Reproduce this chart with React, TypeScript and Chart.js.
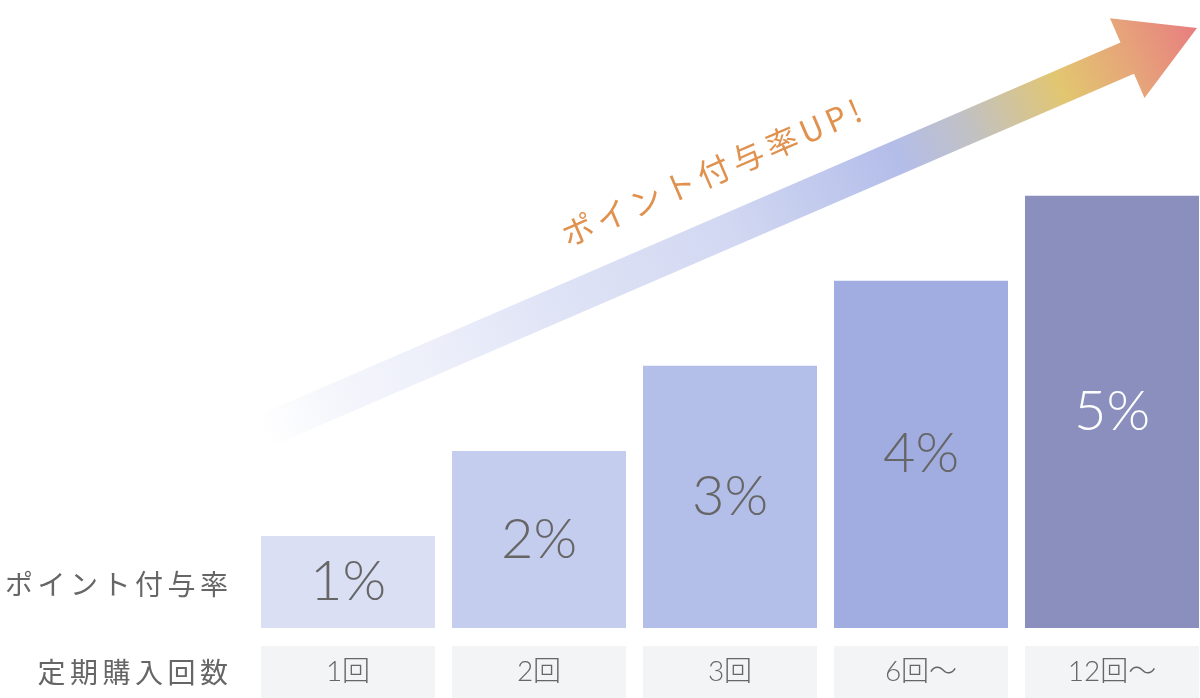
import React, { useEffect, useRef } from 'react';
import { Chart, registerables } from 'chart.js';

Chart.register(...registerables);

// data
const purchaseCounts = ['1回', '2回', '3回', '6回〜', '12回〜'];
const pointRates = [1, 2, 3, 4, 5];
const barColors = ['#dadff4', '#c5cdef', '#b3bee9', '#a1ade0', '#8a8fbd'];
const valueLabelColors = ['#666666', '#666666', '#666666', '#666666', '#ffffff'];
const rowLabels = ['ポイント付与率', '定期購入回数'];
const arrowCaption = 'ポイント付与率UP!';

const GREY = '#666666';
const CELL_BG = '#f3f4f5';
const Y_MIN = -0.082;

// grey cells behind the x tick labels + the big gradient arrow
const backgroundPlugin = {
    id: 'backgroundDecor',
    beforeDraw(chart: any) {
        const { ctx, chartArea } = chart;
        const meta = chart.getDatasetMeta(0);
        ctx.save();
        ctx.fillStyle = CELL_BG;
        meta.data.forEach((bar: any) => {
            const { x, width } = bar.getProps(['x', 'width'], true);
            ctx.fillRect(x - width / 2, chartArea.bottom + 18, width, 60);
        });

        // arrow, from lower left to upper right
        const sx = chartArea.left + 9.5, sy = 432;
        const tx = 1197, ty = 28;
        const len = Math.hypot(tx - sx, ty - sy);
        const ang = Math.atan2(ty - sy, tx - sx);
        const headLen = 76, headHalf = 43.5, shaftHalf = 17;
        ctx.translate(sx, sy);
        ctx.rotate(ang);
        const g = ctx.createLinearGradient(0, 0, len, 0);
        g.addColorStop(0, 'rgba(240,242,250,0)');
        g.addColorStop(0.08, 'rgba(238,240,250,0.6)');
        g.addColorStop(0.3, '#e0e4f6');
        g.addColorStop(0.5, '#d2d8f2');
        g.addColorStop(0.68, '#b3bde9');
        g.addColorStop(0.755, '#c1c1c5');
        g.addColorStop(0.855, '#e2c670');
        g.addColorStop(0.93, '#e6a37a');
        g.addColorStop(1, '#e87e80');
        ctx.fillStyle = g;
        ctx.beginPath();
        ctx.moveTo(0, -shaftHalf);
        ctx.lineTo(len - headLen, -shaftHalf);
        ctx.lineTo(len - headLen, -headHalf);
        ctx.lineTo(len, 0);
        ctx.lineTo(len - headLen, headHalf);
        ctx.lineTo(len - headLen, shaftHalf);
        ctx.lineTo(0, shaftHalf);
        ctx.closePath();
        ctx.fill();

        ctx.fillStyle = '#e0914e';
        ctx.font = '400 32px "Noto Sans CJK JP", "Noto Sans", sans-serif';
        ctx.textAlign = 'left';
        ctx.textBaseline = 'alphabetic';
        (ctx as any).letterSpacing = '5px';
        ctx.fillText(arrowCaption, 354, -48);
        ctx.restore();
    }
};

// % values inside the bars and the row captions on the left
const labelPlugin = {
    id: 'barLabels',
    afterDatasetsDraw(chart: any) {
        const { ctx, chartArea } = chart;
        const meta = chart.getDatasetMeta(0);
        ctx.save();
        ctx.textAlign = 'center';
        ctx.textBaseline = 'middle';
        ctx.font = '300 56px Lato, "Noto Sans", sans-serif';
        meta.data.forEach((bar: any, i: number) => {
            const { x, y, base } = bar.getProps(['x', 'y', 'base'], true);
            ctx.fillStyle = valueLabelColors[i];
            ctx.fillText(pointRates[i] + '%', x, (y + base) / 2);
        });

        const first = meta.data[0].getProps(['y', 'base'], true);
        ctx.fillStyle = GREY;
        ctx.textAlign = 'right';
        ctx.font = '400 28px "Noto Sans CJK JP", sans-serif';
        (ctx as any).letterSpacing = '4.5px';
        const rx = chartArea.left - 24.5 + 4.5;
        ctx.fillText(rowLabels[0], rx, (first.y + first.base) / 2 + 2);
        ctx.fillText(rowLabels[1], rx, chartArea.bottom + 44);
        ctx.restore();
    }
};

const PointRateChart: React.FC = () => {
    const chartRef = useRef<HTMLCanvasElement>(null);
    const chartInstanceRef = useRef<Chart | null>(null);

    useEffect(() => {
        if (!chartRef.current) return;
        if (chartInstanceRef.current) {
            chartInstanceRef.current.destroy();
        }
        const ctx = chartRef.current.getContext('2d');
        if (!ctx) return;
        chartInstanceRef.current = new Chart(ctx, {
            type: 'bar',
            data: {
                labels: purchaseCounts,
                datasets: [{
                    label: 'ポイント付与率',
                    data: pointRates,
                    backgroundColor: barColors,
                    borderWidth: 0,
                    base: Y_MIN,
                    categoryPercentage: 1,
                    barPercentage: 174 / 191
                }]
            },
            options: {
                responsive: true,
                maintainAspectRatio: false,
                animation: false,
                layout: { padding: { left: 252.5, right: 0.5, top: 0, bottom: 0 } },
                plugins: {
                    legend: { display: false },
                    tooltip: { enabled: false }
                },
                scales: {
                    y: {
                        display: false,
                        min: Y_MIN,
                        max: 7.3
                    },
                    x: {
                        grid: { display: false, drawTicks: false },
                        border: { display: false },
                        ticks: {
                            color: GREY,
                            padding: 27,
                            font: { family: 'Lato, "Noto Sans CJK JP", sans-serif', size: 28, weight: 300 }
                        },
                        afterFit: (scale: any) => { scale.height = 70; }
                    }
                }
            } as any,
            plugins: [backgroundPlugin, labelPlugin]
        });
        return () => {
            if (chartInstanceRef.current) {
                chartInstanceRef.current.destroy();
                chartInstanceRef.current = null;
            }
        };
    }, []);

    return (
        <div style={{ position: 'fixed', left: 0, top: 0, width: 1200, height: 698, overflow: 'hidden', background: '#fff' }}>
            <div style={{ position: 'relative', width: 1208, height: 698 }}>
                <canvas ref={chartRef}></canvas>
            </div>
        </div>
    );
};

export default function App() {
    return <PointRateChart />;
}
